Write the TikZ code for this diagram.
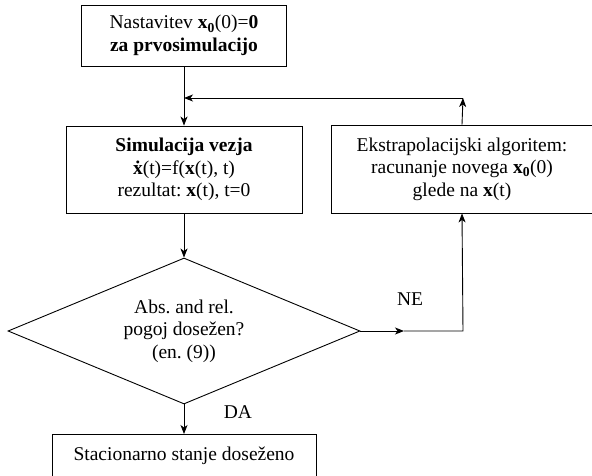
\documentclass[tikz,border=0pt]{standalone}
\usepackage{fontspec}
\setmainfont{Liberation Serif}
\usetikzlibrary{arrows.meta,shapes.geometric}
\frenchspacing

\begin{document}
\begin{tikzpicture}[x=1pt, y=-1pt, >={Stealth[length=9pt,width=7pt,inset=2.5pt]}, line width=0.9pt,
  font=\fontsize{19.5}{22.5}\selectfont,
  box/.style={draw, rectangle, align=center, inner sep=0pt},
  test/.style={draw, diamond, aspect=2.4, align=center, inner sep=0pt, minimum width=352pt, minimum height=146pt}]
  \useasboundingbox (0,0) rectangle (592,476);
  \clip (0,0) rectangle (592,476);
  \node[box, minimum width=205pt, minimum height=61pt] (init) at (184,35.5)
    {Nastavitev \textbf{x}\textsubscript{\textbf{0}}(0)=\textbf{0}\\ \textbf{za prvosimulacijo}};
  \node[box, minimum width=236pt, minimum height=87pt] (sim) at (184,169.5)
    {\textbf{Simulacija vezja}\\ \textbf{\.x}(t)=f(\textbf{x}(t), t)\\ rezultat: \textbf{x}(t), t=0};
  \node[box, minimum width=262pt, minimum height=88pt] (extra) at (462,169)
    {Ekstrapolacijski algoritem:\\ racunanje novega \textbf{x}\textsubscript{\textbf{0}}(0)\\ glede na \textbf{x}(t)};
  \node[test] (cond) at (184,331) {Abs. and rel.\\ pogoj dosežen?\\ (en. (9))};
  \node[box, minimum width=264pt, inner ysep=6pt, text height=20pt, text depth=24pt, anchor=north] (stat) at (184,434)
    {Stacionarno stanje doseženo};
  \node (ne) at (410,299) {NE};
  \node (da) at (238,412) {DA};
  \coordinate (nm) at (404,331); \coordinate (nc) at (463,331);
  \coordinate (fb) at (463,98);  \coordinate (jn) at (184,98);
  \draw[->](init)--(sim); \draw[->](sim)--(cond); \draw[->](cond)--(stat);
  \draw[->](cond.east)--(nm); \draw[->](nm)--(nc)--(extra.south);
  \draw[->](extra.north)--(fb); \draw[->](fb)--(jn);
\end{tikzpicture}
\end{document}
